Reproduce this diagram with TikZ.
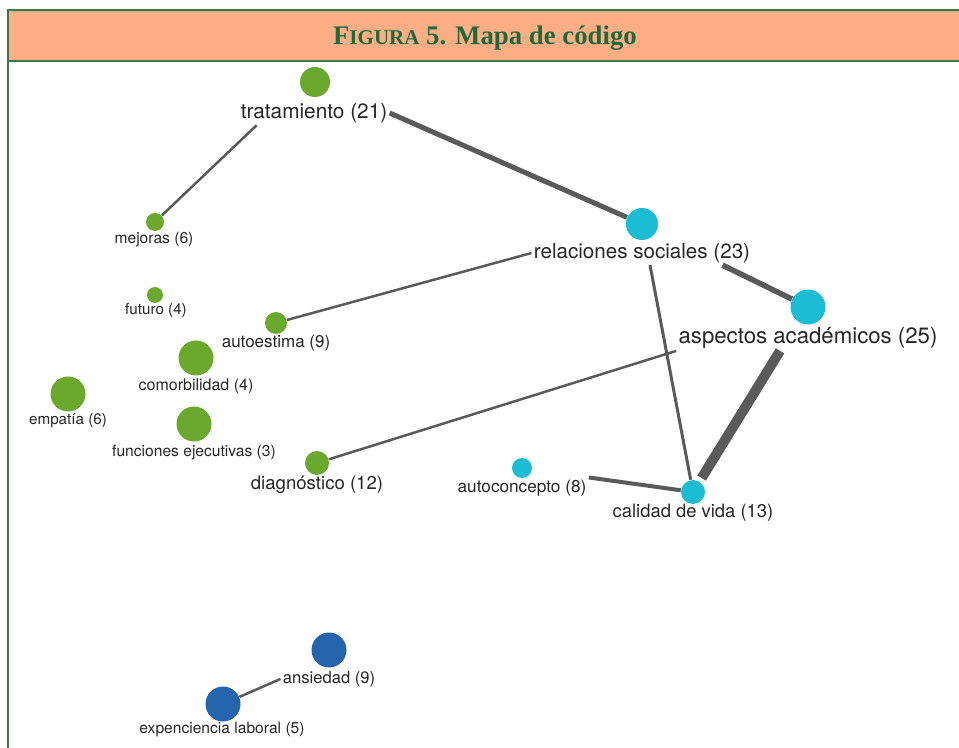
\documentclass[tikz,border=0pt]{standalone}
\usepackage{fontspec}
\setsansfont{TeX Gyre Heros}
\newfontfamily\titlefont{Liberation Serif}

\newlength{\du}
\setlength{\du}{0.5pt}

\definecolor{framecolor}{rgb}{0.24,0.47,0.30}
\definecolor{bandcolor}{HTML}{FDAE85}
\definecolor{titlecolor}{HTML}{1F6A3A}
\definecolor{codegreen}{HTML}{6BA82E}
\definecolor{codecyan}{HTML}{1CBCD3}
\definecolor{codeblue}{HTML}{2664AE}
\definecolor{linkcolor}{HTML}{5A5A5A}

\tikzset{
  code/.style={circle, inner sep=0pt, minimum size=#1\du},
  grn/.style={code=#1, fill=codegreen},
  cyn/.style={code=#1, fill=codecyan},
  blu/.style={code=#1, fill=codeblue},
  lbl/.style={font=\sffamily\fontsize{#1}{#1}\selectfont, text=black!85, inner sep=1pt},
  link/.style={draw=linkcolor, line width=#1\du},
}

\begin{document}
\begin{tikzpicture}
\pgftransformxscale{1.000000}
\pgftransformyscale{-1.000000}
\useasboundingbox (0\du,0\du) rectangle (959\du,748\du);
\clip (0\du,0\du) rectangle (959\du,748\du);
% frame and title band
\fill[bandcolor] (8\du,10\du) rectangle (975\du,61\du);
\draw[framecolor, line width=1.4\du] (975\du,10\du)--(8\du,10\du)--(8\du,760\du);
\draw[framecolor, line width=1.4\du] (8\du,61\du)--(975\du,61\du);
\node[anchor=base, text=titlecolor, inner sep=0pt] (title) at (485\du,45\du)
  {\titlefont\bfseries\fontsize{13.4}{14}\selectfont F{\fontsize{10.5}{12}\selectfont IGURA} 5. Mapa de código};
% codes
\node[grn=30] (tratC) at (315\du,82\du) {};
\node[lbl=10.4] (tratL) at (314\du,113\du) {tratamiento (21)};
\node[grn=18] (mejC) at (155\du,222\du) {};
\node[lbl=7.8] (mejL) at (154\du,240\du) {mejoras (6)};
\node[grn=16] (futC) at (155\du,295\du) {};
\node[lbl=7.6] (futL) at (156\du,311\du) {futuro (4)};
\node[grn=22] (autC) at (276\du,323\du) {};
\node[lbl=8.5] (autL) at (276\du,343\du) {autoestima (9)};
\node[grn=35] (comC) at (196\du,358\du) {};
\node[lbl=8] (comL) at (196\du,386\du) {comorbilidad (4)};
\node[grn=35] (empC) at (68\du,394\du) {};
\node[lbl=7.6] (empL) at (68\du,421\du) {empatía (6)};
\node[grn=35] (funC) at (194\du,424\du) {};
\node[lbl=7.8] (funL) at (194\du,452\du) {funciones ejecutivas (3)};
\node[grn=24] (diaC) at (317\du,463\du) {};
\node[lbl=9.3] (diaL) at (317\du,485\du) {diagnóstico (12)};
\node[cyn=32] (relC) at (642\du,224\du) {};
\node[lbl=10.3] (relL) at (642\du,253\du) {relaciones sociales (23)};
\node[cyn=35] (aspC) at (808\du,307\du) {};
\node[lbl=11.1] (aspL) at (808\du,338\du) {aspectos académicos (25)};
\node[cyn=20] (aclC) at (522\du,468\du) {};
\node[lbl=8.6] (aclL) at (522\du,488\du) {autoconcepto (8)};
\node[cyn=24] (calC) at (693\du,492\du) {};
\node[lbl=9.2] (calL) at (693\du,513\du) {calidad de vida (13)};
\node[blu=35] (ansC) at (329\du,650\du) {};
\node[lbl=8.3] (ansL) at (329\du,679\du) {ansiedad (9)};
\node[blu=35] (expC) at (223\du,704\du) {};
\node[lbl=7.8] (expL) at (222\du,730\du) {expenciencia laboral (5)};
% links
\draw[link=5] (tratL.east) -- (relC);
\draw[link=2.5] (tratL.192) -- (mejC);
\draw[link=2.5] (autC) -- (relL.west);
\draw[link=3] ([xshift=4pt]relL.south) -- (calC);
\draw[link=5.5] ([xshift=-15pt]relL.south east) -- (aspC);
\draw[link=10, shorten >=2pt] ([xshift=-14pt]aspL.south) -- (calC);
\draw[link=2.5] (aspL.south west) -- (diaC);
\draw[link=4] (aclL.north east) -- (calC);
\draw[link=2.5] (ansL.west) -- (expC);
\end{tikzpicture}
\end{document}
